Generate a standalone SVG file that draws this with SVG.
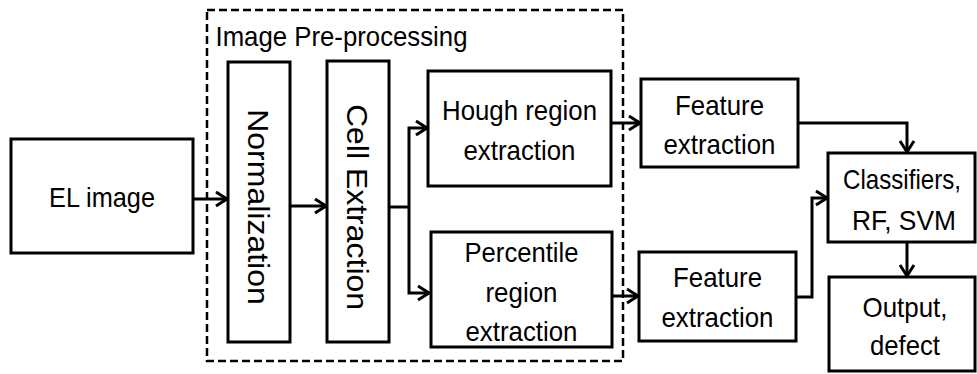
<svg xmlns="http://www.w3.org/2000/svg" width="977" height="374" viewBox="0 0 977 374">
<defs>
<marker id="arr" markerUnits="userSpaceOnUse" markerWidth="20" markerHeight="20" viewBox="-14 -10 16 20" refX="0" refY="0" orient="auto">
<path d="M-11,-7 L0,0 L-11,7" fill="none" stroke="#000" stroke-width="3" stroke-linejoin="miter"/>
</marker>
</defs>
<style>
.box{fill:#fff;stroke:#000;stroke-width:3}
.t{font-family:"Liberation Sans",Arial,sans-serif;font-size:28px;fill:#000;text-anchor:middle}
.v{font-family:"Liberation Sans",Arial,sans-serif;font-size:32px;fill:#000;text-anchor:middle}
.c{fill:none;stroke:#000;stroke-width:3}
.dash{fill:none;stroke:#000;stroke-width:2.5;stroke-dasharray:8 4}
</style>
<rect fill="#fff" x="0" y="0" width="977" height="374"/>
<g id="connectors">
<path class="c" d="M193,199 H227" marker-end="url(#arr)"/>
<path class="c" d="M291,206 H326" marker-end="url(#arr)"/>
<path class="c" d="M389,207 H409"/>
<path class="c" d="M409,207 V128 H427" marker-end="url(#arr)"/>
<path class="c" d="M409,207 V293 H429" marker-end="url(#arr)"/>
<path class="c" d="M611,123 H640" marker-end="url(#arr)"/>
<path class="c" d="M612,296 H638" marker-end="url(#arr)"/>
<path class="c" d="M798,123 H907 V152" marker-end="url(#arr)"/>
<path class="c" d="M796,297 H812 V198 H827" marker-end="url(#arr)"/>
<path class="c" d="M907,243 V276" marker-end="url(#arr)"/>
</g>
<g id="preprocessing">
<rect class="dash" x="207" y="10" width="416" height="351"/>
<text class="t" x="341.5" y="46" textLength="252" lengthAdjust="spacingAndGlyphs">Image Pre-processing</text>
</g>
<g id="el-image">
<rect class="box" x="11" y="139" width="182" height="114"/>
<text class="t" x="102" y="207" textLength="106" lengthAdjust="spacingAndGlyphs">EL image</text>
</g>
<g id="normalization">
<rect class="box" x="228" y="62" width="62" height="280"/>
<g transform="translate(259,207) scale(0.92,1) rotate(90)">
<text class="v" x="0" y="11.5">Normalization</text>
</g>
</g>
<g id="cell-extraction">
<rect class="box" x="327" y="61" width="62" height="281"/>
<g transform="translate(358,207) scale(0.92,1) rotate(90)">
<text class="v" x="0" y="11.5">Cell Extraction</text>
</g>
</g>
<g id="hough">
<rect class="box" x="428" y="71" width="183" height="115"/>
<text class="t" x="519.5" y="120" textLength="155" lengthAdjust="spacingAndGlyphs">Hough region</text>
<text class="t" x="519.5" y="160" textLength="112" lengthAdjust="spacingAndGlyphs">extraction</text>
</g>
<g id="percentile">
<rect class="box" x="431" y="232" width="181" height="115"/>
<text class="t" x="521.5" y="262" textLength="114" lengthAdjust="spacingAndGlyphs">Percentile</text>
<text class="t" x="521.5" y="302" textLength="72" lengthAdjust="spacingAndGlyphs">region</text>
<text class="t" x="521.5" y="341" textLength="112" lengthAdjust="spacingAndGlyphs">extraction</text>
</g>
<g id="feature-top">
<rect class="box" x="641" y="79" width="157" height="88"/>
<text class="t" x="719.5" y="115" textLength="89" lengthAdjust="spacingAndGlyphs">Feature</text>
<text class="t" x="719.5" y="154" textLength="112" lengthAdjust="spacingAndGlyphs">extraction</text>
</g>
<g id="feature-bottom">
<rect class="box" x="639" y="252" width="157" height="89"/>
<text class="t" x="717.5" y="287" textLength="89" lengthAdjust="spacingAndGlyphs">Feature</text>
<text class="t" x="717.5" y="327" textLength="112" lengthAdjust="spacingAndGlyphs">extraction</text>
</g>
<g id="classifiers">
<rect class="box" x="828" y="153" width="147" height="89"/>
<text class="t" x="902" y="189" textLength="118" lengthAdjust="spacingAndGlyphs">Classifiers,</text>
<text class="t" x="904" y="230" textLength="104" lengthAdjust="spacingAndGlyphs">RF, SVM</text>
</g>
<g id="output">
<rect class="box" x="829" y="277" width="146" height="94"/>
<text class="t" x="905" y="317" textLength="85" lengthAdjust="spacingAndGlyphs">Output,</text>
<text class="t" x="905" y="355" textLength="70" lengthAdjust="spacingAndGlyphs">defect</text>
</g>
</svg>
